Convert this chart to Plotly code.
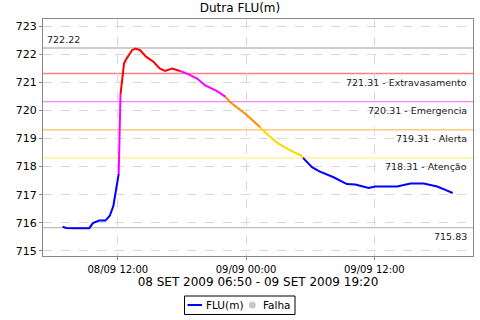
import plotly.graph_objects as go

# ---- data ----
times = [
    "2009-09-08 06:50", "2009-09-08 07:10", "2009-09-08 08:00", "2009-09-08 09:20",
    "2009-09-08 09:40", "2009-09-08 10:15", "2009-09-08 10:50", "2009-09-08 11:15",
    "2009-09-08 11:35", "2009-09-08 11:50", "2009-09-08 12:05", "2009-09-08 12:15",
    "2009-09-08 12:35", "2009-09-08 12:50", "2009-09-08 13:20", "2009-09-08 13:40",
    "2009-09-08 14:05", "2009-09-08 14:40", "2009-09-08 15:20", "2009-09-08 15:55",
    "2009-09-08 16:25", "2009-09-08 17:05", "2009-09-08 17:20", "2009-09-08 17:50",
    "2009-09-08 18:35", "2009-09-08 19:25", "2009-09-08 20:10", "2009-09-08 21:15",
    "2009-09-08 22:05", "2009-09-08 22:30", "2009-09-08 23:55", "2009-09-09 00:40",
    "2009-09-09 01:20", "2009-09-09 01:35", "2009-09-09 02:50", "2009-09-09 03:35",
    "2009-09-09 04:30", "2009-09-09 05:10", "2009-09-09 05:20", "2009-09-09 06:10",
    "2009-09-09 06:52", "2009-09-09 08:11", "2009-09-09 09:26", "2009-09-09 10:13",
    "2009-09-09 11:28", "2009-09-09 12:05", "2009-09-09 14:08", "2009-09-09 15:23",
    "2009-09-09 16:37", "2009-09-09 17:53", "2009-09-09 18:39", "2009-09-09 19:20",
]
levels = [
    715.86, 715.82, 715.81, 715.81,
    715.99, 716.08, 716.08, 716.25,
    716.60, 717.20, 717.74, 720.57,
    721.67, 721.85, 722.14, 722.20,
    722.14, 721.90, 721.73, 721.49,
    721.40, 721.49, 721.46, 721.40,
    721.29, 721.13, 720.89, 720.69,
    720.48, 720.30, 719.88, 719.64,
    719.40, 719.29, 718.87, 718.69,
    718.51, 718.39, 718.31, 717.98,
    717.83, 717.62, 717.38, 717.36,
    717.24, 717.29, 717.29, 717.40,
    717.40, 717.29, 717.17, 717.06,
]

thresholds = [721.31, 720.31, 719.31, 718.31]
threshold_names = ["Extravasamento", "Emergencia", "Alerta", "Atenção"]
max_level = 722.22
min_level = 715.83

tick_vals = ["2009-09-08 12:00", "2009-09-09 00:00", "2009-09-09 12:00"]
tick_text = ["08/09 12:00", "09/09 00:00", "09/09 12:00"]

title = "Dutra FLU(m)"
x_title = "08 SET 2009 06:50 - 09 SET 2009 19:20"
series_name = "FLU(m)"
fail_name = "Falha"

# ---- styles ----
seg_colors = ["#FF0000", "#FF00FF", "#FF8C00", "#FFD800", "#0000FF"]
thr_colors = ["#FF8080", "#FF80FF", "#FFC880", "#FFF080"]
W, H = 480, 320
ML, MR, MT, MB = 43, 7, 19, 64
PW, PH = W - ML - MR, H - MT - MB


def px_x(p):
    return (p - ML) / PW


def px_y(p):
    return (H - MB - p) / PH


def band_color(v):
    for i, t in enumerate(thresholds):
        if v >= t:
            return seg_colors[i]
    return seg_colors[-1]


fig = go.Figure()

fig.add_trace(go.Scatter(x=[None], y=[None], mode="lines", name=series_name,
                         line=dict(color="#0000FF", width=2), showlegend=False))
fig.add_trace(go.Scatter(x=[None], y=[None], mode="markers", name=fail_name,
                         marker=dict(color="#C8C8C8", size=8), showlegend=False))

runs = []
for i in range(1, len(times)):
    c = band_color(levels[i])
    if runs and runs[-1][0] == c:
        runs[-1][2] = i
    else:
        runs.append([c, i - 1, i])
for c, a, b in runs:
    fig.add_trace(go.Scatter(x=times[a:b + 1], y=levels[a:b + 1], mode="lines",
                             line=dict(color=c, width=2), showlegend=False,
                             name=series_name, hoverinfo="skip"))

shapes = []
annotations = []
lab_font = dict(size=9.5, color="#222", family="DejaVu Sans")
for t, name, col in zip(thresholds, threshold_names, thr_colors):
    shapes.append(dict(type="line", xref="paper", x0=0, x1=1, yref="y", y0=t, y1=t,
                       line=dict(color=col, width=1.4), layer="below"))
    annotations.append(dict(xref="paper", x=0.99, yref="y", y=t, yshift=-9,
                            text=f"{t:.2f} - {name}", showarrow=False,
                            xanchor="right", yanchor="middle", font=lab_font))
for v in [max_level, min_level]:
    shapes.append(dict(type="line", xref="paper", x0=0, x1=1, yref="y", y0=v, y1=v,
                       line=dict(color="#BDBDBD", width=1.4), layer="below"))
annotations.append(dict(xref="paper", x=0.005, yref="y", y=max_level, yshift=8,
                        text=f"{max_level:.2f}", showarrow=False, xanchor="left",
                        yanchor="middle", font=lab_font))
annotations.append(dict(xref="paper", x=0.99, yref="y", y=min_level, yshift=-9,
                        text=f"{min_level:.2f}", showarrow=False, xanchor="right",
                        yanchor="middle", font=lab_font))

# legend box (drawn below the plot, like the original chart)
leg_font = dict(size=10.5, color="#000", family="DejaVu Sans")
shapes.append(dict(type="rect", xref="paper", yref="paper",
                   x0=px_x(184.5), x1=px_x(295), y0=px_y(314.5), y1=px_y(296),
                   line=dict(color="#000", width=1), fillcolor="white"))
shapes.append(dict(type="line", xref="paper", yref="paper",
                   x0=px_x(187.5), x1=px_x(202), y0=px_y(305), y1=px_y(305),
                   line=dict(color="#0000FF", width=2)))
shapes.append(dict(type="circle", xref="paper", yref="paper",
                   x0=px_x(248.8), x1=px_x(255.8), y0=px_y(308.5), y1=px_y(301.5),
                   line=dict(color="#C8C8C8", width=0), fillcolor="#C8C8C8"))
annotations.append(dict(xref="paper", yref="paper", x=px_x(204), y=px_y(305),
                        text=series_name, showarrow=False, xanchor="left",
                        yanchor="middle", font=leg_font))
annotations.append(dict(xref="paper", yref="paper", x=px_x(261), y=px_y(305),
                        text=fail_name, showarrow=False, xanchor="left",
                        yanchor="middle", font=leg_font))

fig.update_layout(
    width=W, height=H,
    margin=dict(l=ML, r=MR, t=MT, b=MB),
    paper_bgcolor="white", plot_bgcolor="white",
    font=dict(family="DejaVu Sans", size=11, color="#222"),
    title=dict(text=title, x=0.5, xref="container", xanchor="center",
               y=1 - 7.5 / H, yref="container", yanchor="middle",
               font=dict(size=12, color="#000")),
    showlegend=False,
    shapes=shapes, annotations=annotations,
    xaxis=dict(type="date", range=["2009-09-08 05:00", "2009-09-09 21:14"],
               tickvals=tick_vals, ticktext=tick_text,
               tickfont=dict(size=10, color="#000"),
               showline=True, mirror=True, linecolor="#888", linewidth=1,
               ticks="outside", ticklen=3, tickcolor="#888",
               ticklabelstandoff=1,
               showgrid=True, gridcolor="#D8D8D8", griddash="dash", gridwidth=1,
               zeroline=False,
               title=dict(text=x_title, font=dict(size=12, color="#000"), standoff=3)),
    yaxis=dict(range=[714.82, 723.25], dtick=1, tick0=715,
               tickfont=dict(size=11, color="#000"),
               showline=True, mirror=True, linecolor="#888", linewidth=1,
               ticks="outside", ticklen=3, tickcolor="#888",
               showgrid=True, gridcolor="#D8D8D8", griddash="dash", gridwidth=1,
               zeroline=False),
)

fig.write_html("out.html", config={"displayModeBar": False},
               post_script="document.body.style.margin='0px';")
